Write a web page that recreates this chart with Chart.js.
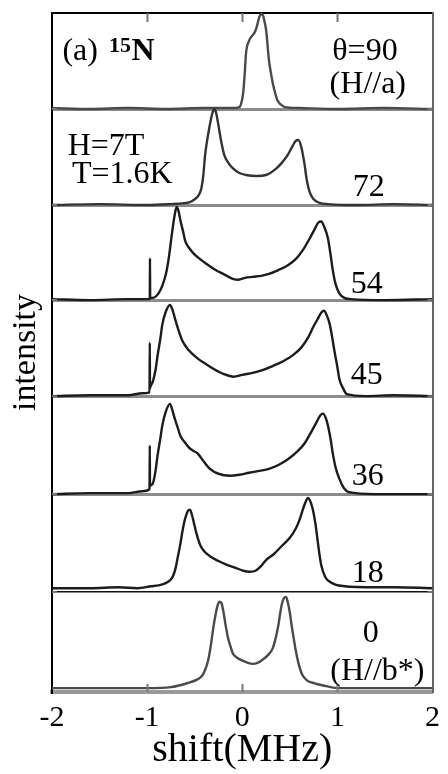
<!DOCTYPE html>
<html>
<head>
<meta charset="utf-8">
<script src="https://cdn.jsdelivr.net/npm/chart.js@4/dist/chart.umd.min.js"></script>
<style>
  html, body { margin: 0; padding: 0; background: #fff; }
  #wrap { width: 448px; height: 774px; }
</style>
</head>
<body>
<div id="wrap"><canvas id="c" width="448" height="774"></canvas></div>
<script>
// 15N NMR spectra at H = 7 T, T = 1.6 K, field rotated in the a-b* plane.
// Spectra are stacked bottom (θ = 0) to top (θ = 90).
const angles = [0, 18, 36, 45, 54, 72, 90];
const angleText = ['0', '18', '36', '45', '54', '72', 'θ=90'];
const baselines = [0, 1.03, 2.04, 3.05, 4.04, 5.02, 6.01];
const xTicks = [-2, -1, 0, 1, 2];

// θ = 0 (H // b*)
const shift0 = [-2, -1.5, -1.0, -0.75, -0.58, -0.47, -0.42, -0.39, -0.36, -0.34, -0.32, -0.3, -0.28, -0.26, -0.24, -0.22, -0.2, -0.18, -0.15, -0.12, -0.1, -0.05, 0.01, 0.06, 0.11, 0.16, 0.21, 0.27, 0.32, 0.35, 0.38, 0.4, 0.42, 0.44, 0.46, 0.48, 0.5, 0.52, 0.54, 0.56, 0.59, 0.63, 0.68, 0.76, 0.84, 1.0, 1.5, 2];
const int0   = [0.04, 0.04, 0.04, 0.05, 0.09, 0.13, 0.17, 0.23, 0.32, 0.42, 0.55, 0.69, 0.80, 0.89, 0.93, 0.92, 0.84, 0.72, 0.56, 0.46, 0.40, 0.35, 0.32, 0.30, 0.29, 0.30, 0.33, 0.38, 0.45, 0.55, 0.69, 0.82, 0.92, 0.97, 0.98, 0.92, 0.82, 0.68, 0.56, 0.44, 0.30, 0.18, 0.12, 0.09, 0.07, 0.04, 0.04, 0.04];

// θ = 18
const shift18 = [-2, -1.6, -1.3, -1.1, -0.96, -0.88, -0.81, -0.76, -0.73, -0.7, -0.68, -0.65, -0.63, -0.61, -0.59, -0.57, -0.55, -0.53, -0.51, -0.48, -0.44, -0.39, -0.34, -0.25, -0.16, -0.07, 0.01, 0.08, 0.14, 0.2, 0.25, 0.33, 0.42, 0.5, 0.56, 0.6, 0.64, 0.67, 0.69, 0.71, 0.74, 0.77, 0.79, 0.81, 0.83, 0.87, 0.9, 0.95, 1.0, 1.3, 1.6, 2];
const int18   = [0.04, 0.04, 0.05, 0.04, 0.06, 0.07, 0.09, 0.12, 0.16, 0.25, 0.35, 0.50, 0.62, 0.72, 0.79, 0.84, 0.85, 0.80, 0.72, 0.60, 0.48, 0.41, 0.37, 0.32, 0.28, 0.25, 0.22, 0.21, 0.22, 0.27, 0.33, 0.39, 0.48, 0.56, 0.65, 0.74, 0.86, 0.94, 0.97, 0.95, 0.86, 0.70, 0.55, 0.40, 0.28, 0.16, 0.12, 0.09, 0.07, 0.05, 0.05, 0.04];

// θ = 36
const shift36 = [-2, -1.6, -1.2, -1.05, -0.975, -0.972, -0.97, -0.965, -0.94, -0.91, -0.89, -0.86, -0.84, -0.8, -0.76, -0.73, -0.71, -0.68, -0.65, -0.6, -0.56, -0.52, -0.47, -0.4, -0.34, -0.25, -0.13, -0.03, 0.07, 0.18, 0.28, 0.38, 0.48, 0.58, 0.66, 0.73, 0.78, 0.82, 0.85, 0.88, 0.9, 0.93, 0.95, 0.98, 1.02, 1.07, 1.12, 1.4, 2];
const int36   = [0.0, 0.01, 0.01, 0.03, 0.05, 0.5, 0.08, 0.09, 0.11, 0.25, 0.40, 0.58, 0.71, 0.86, 0.93, 0.85, 0.78, 0.69, 0.60, 0.53, 0.48, 0.45, 0.42, 0.33, 0.26, 0.21, 0.19, 0.20, 0.22, 0.24, 0.26, 0.30, 0.36, 0.44, 0.53, 0.65, 0.74, 0.81, 0.83, 0.78, 0.71, 0.56, 0.43, 0.28, 0.16, 0.06, 0.02, 0.0, 0.0];

// θ = 45
const shift45 = [-2, -1.6, -1.2, -1.05, -0.975, -0.972, -0.97, -0.965, -0.94, -0.91, -0.89, -0.86, -0.84, -0.8, -0.76, -0.73, -0.71, -0.67, -0.63, -0.56, -0.47, -0.38, -0.3, -0.2, -0.09, 0.0, 0.11, 0.22, 0.32, 0.43, 0.53, 0.62, 0.69, 0.75, 0.79, 0.83, 0.86, 0.89, 0.92, 0.95, 0.97, 1.0, 1.02, 1.06, 1.1, 1.3, 1.6, 2];
const int45   = [0.0, 0.01, 0.01, 0.03, 0.04, 0.55, 0.08, 0.10, 0.15, 0.28, 0.42, 0.60, 0.74, 0.88, 0.94, 0.88, 0.81, 0.68, 0.57, 0.47, 0.39, 0.33, 0.28, 0.23, 0.20, 0.22, 0.24, 0.27, 0.31, 0.36, 0.42, 0.50, 0.60, 0.72, 0.79, 0.86, 0.88, 0.83, 0.74, 0.58, 0.46, 0.30, 0.18, 0.08, 0.02, 0.0, 0.01, 0.0];

// θ = 54
const shift54 = [-2, -1.6, -1.2, -0.99, -0.972, -0.97, -0.968, -0.92, -0.88, -0.84, -0.8, -0.77, -0.74, -0.71, -0.69, -0.67, -0.65, -0.62, -0.6, -0.56, -0.51, -0.44, -0.37, -0.28, -0.2, -0.1, -0.04, 0.03, 0.11, 0.2, 0.28, 0.38, 0.48, 0.57, 0.64, 0.7, 0.76, 0.8, 0.83, 0.86, 0.9, 0.93, 0.95, 0.98, 1.02, 1.08, 1.14, 1.5, 2];
const int54   = [0.01, 0.0, 0.01, 0.01, 0.01, 0.43, 0.02, 0.03, 0.07, 0.15, 0.28, 0.45, 0.68, 0.88, 0.96, 0.92, 0.82, 0.70, 0.61, 0.54, 0.48, 0.42, 0.37, 0.31, 0.27, 0.22, 0.21, 0.23, 0.24, 0.25, 0.27, 0.31, 0.36, 0.43, 0.52, 0.62, 0.73, 0.80, 0.81, 0.76, 0.64, 0.46, 0.32, 0.17, 0.07, 0.02, 0.01, 0.0, 0.01];

// θ = 72
const shift72 = [-2, -1.5, -1.0, -0.75, -0.61, -0.55, -0.5, -0.46, -0.43, -0.41, -0.39, -0.36, -0.33, -0.31, -0.29, -0.27, -0.25, -0.22, -0.19, -0.15, -0.1, -0.03, 0.04, 0.15, 0.25, 0.35, 0.42, 0.48, 0.53, 0.56, 0.59, 0.62, 0.65, 0.68, 0.71, 0.75, 0.82, 0.9, 1.2, 1.6, 2];
const int72   = [0.0, 0.01, 0.0, 0.01, 0.02, 0.03, 0.06, 0.10, 0.17, 0.30, 0.52, 0.72, 0.88, 0.96, 0.99, 0.93, 0.82, 0.65, 0.52, 0.44, 0.38, 0.33, 0.31, 0.30, 0.31, 0.37, 0.44, 0.52, 0.61, 0.66, 0.67, 0.60, 0.45, 0.25, 0.13, 0.06, 0.02, 0.01, 0.0, 0.01, 0.0];

// θ = 90 (H // a)
const shift90 = [-2, -1.6, -1.2, -0.8, -0.4, -0.1, -0.03, -0.01, 0.01, 0.025, 0.04, 0.07, 0.13, 0.15, 0.18, 0.2, 0.22, 0.23, 0.25, 0.28, 0.3, 0.32, 0.35, 0.37, 0.4, 0.45, 0.6, 1.0, 1.5, 2];
const int90   = [0.01, 0.0, 0.01, 0.0, 0.01, 0.01, 0.02, 0.06, 0.17, 0.35, 0.58, 0.70, 0.79, 0.84, 0.95, 0.98, 0.96, 0.92, 0.82, 0.51, 0.38, 0.27, 0.15, 0.09, 0.05, 0.02, 0.01, 0.0, 0.01, 0.0];

const shifts = [shift0, shift18, shift36, shift45, shift54, shift72, shift90];
const intensities = [int0, int18, int36, int45, int54, int72, int90];
const lineColors = ['#4a4a4a', '#1c1c1c', '#1c1c1c', '#1c1c1c', '#1c1c1c', '#333', '#4a4a4a'];

const datasets = angles.map((a, i) => ({
  label: 'θ=' + a,
  data: shifts[i].map((s, j) => ({ x: s, y: baselines[i] + intensities[i][j] })),
  borderColor: lineColors[i],
  borderWidth: 2.4,
  pointRadius: 0,
  cubicInterpolationMode: 'monotone',
  fill: false
}));

const SERIF = '"Liberation Serif", "Times New Roman", serif';

// Inward tick marks on the frame plus the in-panel text.
const decorations = {
  id: 'decorations',
  afterDatasetsDraw(chart) {
    const { ctx, chartArea: ca, scales: { x, y } } = chart;
    ctx.save();
    ctx.strokeStyle = '#777';
    ctx.lineWidth = 2;
    [-1, 0, 1].forEach(v => {
      const px = Math.round(x.getPixelForValue(v)) + 0.5;
      ctx.beginPath();
      ctx.moveTo(px, ca.top); ctx.lineTo(px, ca.top + 9);
      ctx.moveTo(px, ca.bottom); ctx.lineTo(px, ca.bottom - 8);
      ctx.stroke();
    });
    baselines.slice(1).forEach(v => {
      const py = y.getPixelForValue(v);
      ctx.beginPath();
      ctx.moveTo(ca.left, py); ctx.lineTo(ca.left + 5, py);
      ctx.moveTo(ca.right, py); ctx.lineTo(ca.right - 5, py);
      ctx.stroke();
    });

    ctx.fillStyle = '#000';
    ctx.textBaseline = 'alphabetic';
    const put = (text, sx, sy, font, align) => {
      ctx.font = font;
      ctx.textAlign = align || 'center';
      ctx.fillText(text, x.getPixelForValue(sx), y.getPixelForValue(sy));
    };
    const f32 = '32px ' + SERIF;

    // angle labels at the right of each panel
    const labelX = [1.35, 1.32, 1.32, 1.31, 1.31, 1.33, 1.29];
    const labelDy = [0.52, 0.1, 0.09, 0.13, 0.07, 0.09, 0.51];
    angleText.forEach((t, i) => put(t, labelX[i], baselines[i] + labelDy[i], f32));
    put('(H//b*)', 1.42, baselines[0] + 0.12, f32);
    put('(H//a)', 1.32, baselines[6] + 0.17, f32);

    // sample / conditions
    put('(a)', -1.89, 6.52, f32, 'left');
    put('15', -1.40, 6.60, 'bold 22px ' + SERIF, 'left');
    put('N', -1.165, 6.52, 'bold 32px ' + SERIF, 'left');
    put('H=7T', -1.835, 5.54, f32, 'left');
    put('T=1.6K', -1.79, 5.25, f32, 'left');
    ctx.restore();
  }
};

new Chart(document.getElementById('c'), {
  type: 'line',
  data: { datasets },
  options: {
    responsive: false,
    animation: false,
    devicePixelRatio: 1,
    layout: { padding: 0 },
    plugins: { legend: { display: false }, tooltip: { enabled: false } },
    scales: {
      x: {
        type: 'linear', position: 'bottom', min: -2, max: 2,
        afterBuildTicks: s => { s.ticks = xTicks.map(v => ({ value: v })); },
        afterFit: s => { s.height = 82; },
        ticks: { font: { family: SERIF, size: 30 }, color: '#000', padding: 8, maxRotation: 0 },
        grid: { display: false, drawTicks: false },
        border: { display: true, color: '#999', width: 4 },
        title: { display: true, text: 'shift(MHz)', font: { family: SERIF, size: 40 }, color: '#000', padding: { top: 0, bottom: 0 } }
      },
      xTop: {
        type: 'linear', position: 'top', min: -2, max: 2,
        afterFit: s => { s.height = 13; },
        ticks: { display: false },
        grid: { display: false, drawTicks: false },
        border: { display: true, color: '#000', width: 2 }
      },
      y: {
        type: 'linear', position: 'left', min: 0, max: 7,
        afterBuildTicks: s => { s.ticks = baselines.concat([7]).map(v => ({ value: v })); },
        afterFit: s => { s.width = 52; },
        ticks: { display: false },
        grid: {
          drawTicks: false,
          color: c => (c.tick.value === 0 || c.tick.value === 7) ? 'rgba(0,0,0,0)' : (c.tick.value === baselines[1] ? '#111' : '#8c8c8c'),
          lineWidth: c => c.tick.value === baselines[1] ? 1.5 : 3
        },
        border: { display: true, color: '#000', width: 2 },
        title: { display: true, text: 'intensity', font: { family: SERIF, size: 34 }, color: '#000', padding: { top: 6, bottom: 0 } }
      },
      yRight: {
        type: 'linear', position: 'right', min: 0, max: 7,
        afterFit: s => { s.width = 8; },
        ticks: { display: false },
        grid: { display: false, drawTicks: false },
        border: { display: true, color: '#666', width: 2 }
      }
    }
  },
  plugins: [decorations]
});
</script>
</body>
</html>
